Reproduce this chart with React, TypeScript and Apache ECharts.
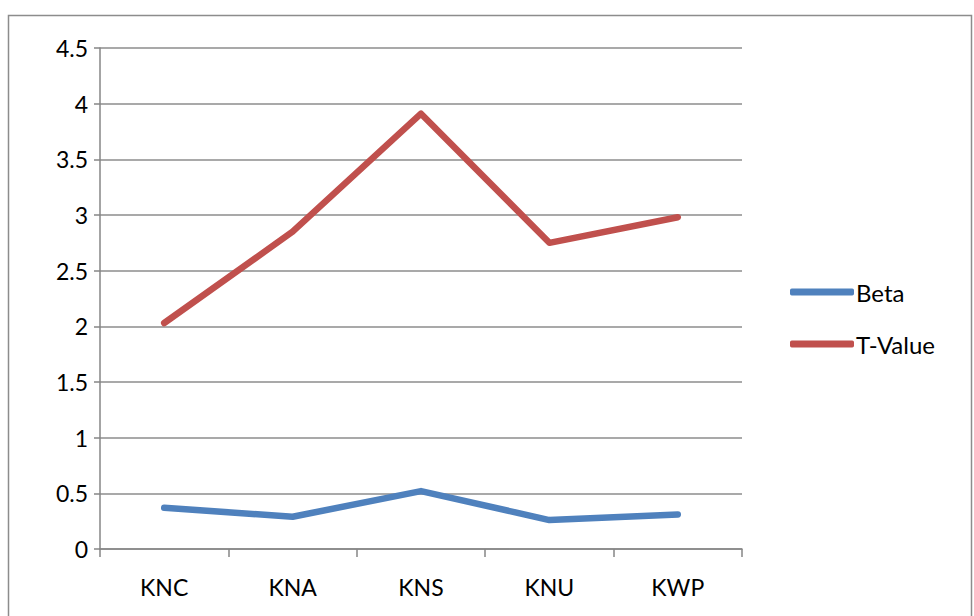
import React, { useEffect, useRef } from "react";
import * as echarts from "echarts";

const categories = ["KNC", "KNA", "KNS", "KNU", "KWP"];
const betaValues = [0.37, 0.29, 0.52, 0.26, 0.31];
const tValues = [2.03, 2.85, 3.91, 2.75, 2.98];
const yTicks = ["0", "0.5", "1", "1.5", "2", "2.5", "3", "3.5", "4", "4.5"];

const FONT = "Lato, 'Open Sans', sans-serif";

export default function App() {
  const ref = useRef<HTMLDivElement>(null);
  useEffect(() => {
    if (!ref.current) return;
    const chart = echarts.init(ref.current, undefined, { renderer: "svg" });
    chart.setOption({
      animation: false,
      backgroundColor: "#ffffff",
      graphic: [
        {
          type: "rect",
          shape: { x: 8.5, y: 15.5, width: 963, height: 640 },
          style: { fill: "none", stroke: "#8c8c8c", lineWidth: 1.5 },
          silent: true,
        },
      ],
      grid: { left: 100, right: 232, top: 48, bottom: 67 },
      legend: {
        orient: "vertical",
        left: 785,
        top: 275,
        itemWidth: 64,
        itemHeight: 7,
        itemGap: 28,
        icon: "roundRect",
        textStyle: { fontFamily: FONT, fontSize: 24, color: "#000", padding: [0, 0, 0, -3] },
        data: ["Beta", "T-Value"],
      },
      xAxis: {
        type: "category",
        data: categories,
        boundaryGap: true,
        axisLine: { lineStyle: { color: "#868686", width: 1.5 } },
        axisTick: { show: true, length: 8, inside: false, lineStyle: { color: "#868686", width: 1.5 } },
        axisLabel: { fontFamily: FONT, fontSize: 23, color: "#000", margin: 26 },
        splitLine: { show: false },
      },
      yAxis: {
        type: "value",
        min: 0,
        max: 4.5,
        interval: 0.5,
        axisLine: { show: true, lineStyle: { color: "#868686", width: 1.5 } },
        axisTick: { show: true, length: 6, lineStyle: { color: "#868686", width: 1.5 } },
        axisLabel: {
          fontFamily: FONT,
          fontSize: 23,
          color: "#000",
          margin: 12,
          formatter: (v: number) => yTicks[Math.round(v / 0.5)] ?? String(v),
        },
        splitLine: { show: true, lineStyle: { color: "#8c8c8c", width: 1.5 } },
      },
      series: [
        {
          name: "Beta",
          type: "line",
          data: betaValues,
          symbol: "none",
          color: "#4F81BD",
          lineStyle: { color: "#4F81BD", width: 6.5, cap: "round", join: "round" },
        },
        {
          name: "T-Value",
          type: "line",
          data: tValues,
          symbol: "none",
          color: "#C0504D",
          lineStyle: { color: "#C0504D", width: 6.5, cap: "round", join: "round" },
        },
      ],
    });
    return () => chart.dispose();
  }, []);
  return (
    <div
      ref={ref}
      style={{ position: "fixed", left: 0, top: 0, width: 974, height: 616 }}
    />
  );
}
